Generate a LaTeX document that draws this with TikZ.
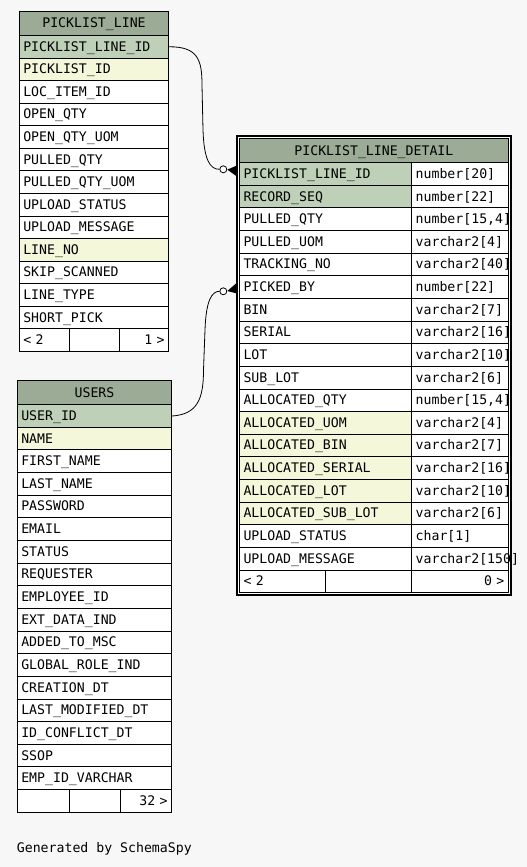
\documentclass[tikz,border=0pt]{standalone}
\usepackage{fontspec}
\setmonofont{DejaVu Sans Mono}
\newcommand\tabfont{\ttfamily\fontsize{13.2}{15}\selectfont}
\definecolor{bg}{HTML}{F7F7F7}
\definecolor{hdr}{HTML}{9BAB96}
\definecolor{pk}{HTML}{BED1B8}
\definecolor{ix}{HTML}{F4F7DA}
\begin{document}
\begin{tikzpicture}[x=1pt,y=-1pt,
  cell/.style={draw=black, line width=1pt, outer sep=0pt, inner xsep=4pt, inner ysep=0pt,
    text height=9.6pt, text depth=0.8pt, anchor=north west, font=\tabfont, align=left},
  head/.style={cell, fill=hdr, align=center, minimum height=24.2pt},
  conn/.style={draw=black, line width=0.8pt},
  optc/.style={circle, draw=black, line width=0.8pt, fill=white, minimum size=7pt, inner sep=0pt},
  crow/.style={fill=black}
]
\useasboundingbox (0,0) rectangle (527,867);
\fill[bg] (0,0) rectangle (527,867);

% ---------- PICKLIST_LINE ----------
\node[head, text width=141.4pt] (pl) at (19.3,11.3) {PICKLIST\_LINE};
\foreach [count=\i from 0] \nm/\cl in {PICKLIST\_LINE\_ID/pk, PICKLIST\_ID/ix, LOC\_ITEM\_ID/white,
  OPEN\_QTY/white, OPEN\_QTY\_UOM/white, PULLED\_QTY/white, PULLED\_QTY\_UOM/white,
  UPLOAD\_STATUS/white, UPLOAD\_MESSAGE/white, LINE\_NO/ix, SKIP\_SCANNED/white,
  LINE\_TYPE/white, SHORT\_PICK/white}
  \node[cell, fill=\cl, text width=141.4pt, minimum height=22.57pt] (pl-\i) at (19.3,{35.5+\i*22.57}) {\nm};
\node[cell, fill=white, text width=42pt, minimum height=22.57pt] (pl-f1) at (19.3,328.9) {< 2};
\node[cell, fill=white, text width=42.4pt, minimum height=22.57pt] (pl-f2) at (69.3,328.9) {};
\node[cell, fill=white, text width=41pt, minimum height=22.57pt, align=right] (pl-f3) at (119.7,328.9) {1 >};

% ---------- USERS ----------
\node[head, text width=146.4pt] (us) at (17.3,380.5) {USERS};
\foreach [count=\i from 0] \nm/\cl in {USER\_ID/pk, NAME/ix, FIRST\_NAME/white, LAST\_NAME/white,
  PASSWORD/white, EMAIL/white, STATUS/white, REQUESTER/white, EMPLOYEE\_ID/white,
  EXT\_DATA\_IND/white, ADDED\_TO\_MSC/white, GLOBAL\_ROLE\_IND/white, CREATION\_DT/white,
  LAST\_MODIFIED\_DT/white, ID\_CONFLICT\_DT/white, SSOP/white, EMP\_ID\_VARCHAR/white}
  \node[cell, fill=\cl, text width=146.4pt, minimum height=22.64pt] (us-\i) at (17.3,{404.7+\i*22.64}) {\nm};
\node[cell, fill=white, text width=44pt, minimum height=22.64pt] (us-f1) at (17.3,789.6) {};
\node[cell, fill=white, text width=43pt, minimum height=22.64pt] (us-f2) at (69.3,789.6) {};
\node[cell, fill=white, text width=43.4pt, minimum height=22.64pt, align=right] (us-f3) at (120.3,789.6) {32 >};

% ---------- PICKLIST_LINE_DETAIL ----------
\fill[white] (236,134.7) rectangle (512,596);
\node[head, text width=260.8pt] (dt) at (239.5,138.5) {PICKLIST\_LINE\_DETAIL};
\foreach [count=\i from 0] \nm/\ty/\cl in {PICKLIST\_LINE\_ID/{number[20]}/pk, RECORD\_SEQ/{number[22]}/pk,
  PULLED\_QTY/{number[15,4]}/white, PULLED\_UOM/{varchar2[4]}/white, TRACKING\_NO/{varchar2[40]}/white,
  PICKED\_BY/{number[22]}/white, BIN/{varchar2[7]}/white, SERIAL/{varchar2[16]}/white,
  LOT/{varchar2[10]}/white, SUB\_LOT/{varchar2[6]}/white, ALLOCATED\_QTY/{number[15,4]}/white,
  ALLOCATED\_UOM/{varchar2[4]}/ix, ALLOCATED\_BIN/{varchar2[7]}/ix, ALLOCATED\_SERIAL/{varchar2[16]}/ix,
  ALLOCATED\_LOT/{varchar2[10]}/ix, ALLOCATED\_SUB\_LOT/{varchar2[6]}/ix,
  UPLOAD\_STATUS/{char[1]}/white, UPLOAD\_MESSAGE/{varchar2[150]}/white}
{
  \node[cell, fill=\cl, text width=164.2pt, minimum height=22.63pt] (dt-\i) at (239.5,{162.7+\i*22.63}) {\nm};
  \node[cell, fill=white, text width=88.6pt, minimum height=22.63pt] (dtt-\i) at (411.7,{162.7+\i*22.63}) {\ty};
}
\node[cell, fill=white, text width=78.2pt, minimum height=22.63pt] (dt-f1) at (239.5,570.0) {< 2};
\node[cell, fill=white, text width=78pt, minimum height=22.63pt] (dt-f2) at (325.7,570.0) {};
\node[cell, fill=white, text width=88.6pt, minimum height=22.63pt, align=right] (dt-f3) at (411.7,570.0) {0 >};
\draw[line width=2pt] (237,135.7) rectangle (511,595);

% ---------- connectors ----------
\node[optc] (c1) at (223.3,169.3) {};
\coordinate (k1) at (227.3,169.6);
\fill[crow] (k1) -- (236.3,165.8) -- (236.3,176) -- cycle;
\draw[conn] (pl-0.east) .. controls (198,46.5) and (202,60) .. (202,85)
  -- (203,130) .. controls (204,160) and (210,169.3) .. (c1.west);

\node[optc] (c2) at (223.3,291.3) {};
\coordinate (k2) at (227.3,291);
\fill[crow] (k2) -- (236.3,283.3) -- (236.3,293.3) -- cycle;
\draw[conn] (us-0.east) .. controls (198,414.5) and (203.5,398) .. (203.5,370)
  -- (205,330) .. controls (206,300) and (212,291.3) .. (c2.west);

% ---------- footer text ----------
\node[font=\tabfont, anchor=base west, inner sep=0pt] (gen) at (16.7,852.7) {Generated by SchemaSpy};
\end{tikzpicture}
\end{document}
